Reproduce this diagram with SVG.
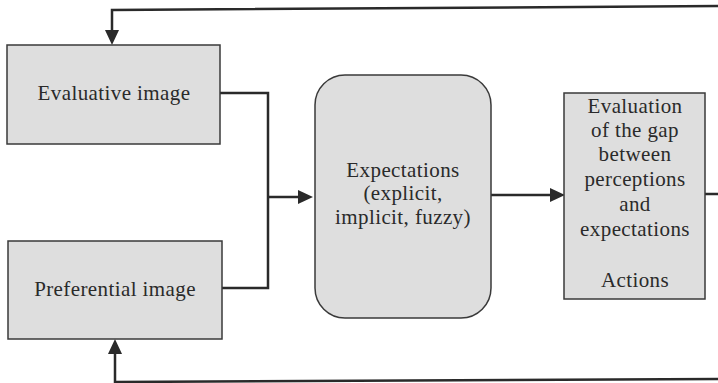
<svg xmlns="http://www.w3.org/2000/svg" width="718" height="383" viewBox="0 0 718 383">
<style>
.box{fill:#dedede;stroke:#3a3a3a;stroke-width:1.5}
.lbl{font-family:"Liberation Serif","Times New Roman",serif;font-size:21px;letter-spacing:0.4px;fill:#2a2a2a;text-anchor:middle}
.con{fill:none;stroke:#2a2a2a;stroke-width:2.5}
.head{fill:#2a2a2a}
</style>
<rect width="718" height="383" fill="#ffffff"/>
<g id="connectors">
<path class="con" d="M220 93 H268 V288 H222"/>
<path class="con" d="M268 197 H300"/>
<polygon class="head" points="313,197 298,190 298,204"/>
<path class="con" d="M491 195 H552"/>
<polygon class="head" points="565,195 550,188 550,202"/>
<path class="con" d="M705 194 H722 V6 L112 10 V32"/>
<polygon class="head" points="112,45 105,30 119,30"/>
<path class="con" d="M722 194 V379 L115 382 V352"/>
<polygon class="head" points="115,339 108,354 122,354"/>
</g>
<g id="evaluative">
<rect class="box" x="7" y="45" width="213" height="99"/>
<text class="lbl" x="114" y="100">Evaluative image</text>
</g>
<g id="preferential">
<rect class="box" x="8" y="241" width="214" height="98"/>
<text class="lbl" x="115" y="296">Preferential image</text>
</g>
<g id="expectations">
<rect class="box" x="315" y="75" width="176" height="243" rx="30" ry="30"/>
<text class="lbl" x="403" y="177">Expectations</text>
<text class="lbl" x="403" y="200">(explicit,</text>
<text class="lbl" x="403" y="224">implicit, fuzzy)</text>
</g>
<g id="evaluation">
<rect class="box" x="564" y="93" width="141" height="206"/>
<text class="lbl" x="635" y="113">Evaluation</text>
<text class="lbl" x="635" y="137">of the gap</text>
<text class="lbl" x="635" y="161">between</text>
<text class="lbl" x="635" y="186">perceptions</text>
<text class="lbl" x="635" y="211">and</text>
<text class="lbl" x="635" y="236">expectations</text>
<text class="lbl" x="635" y="287">Actions</text>
</g>
</svg>
